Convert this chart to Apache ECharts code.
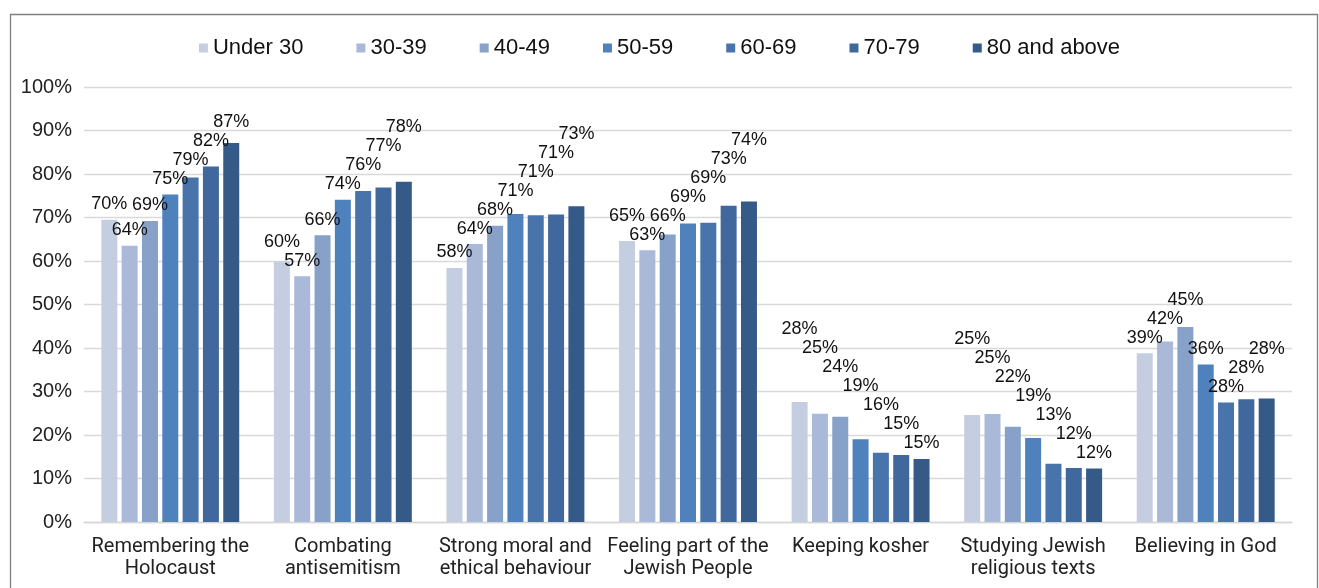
<!DOCTYPE html>
<html><head><meta charset="utf-8">
<script src="https://cdn.jsdelivr.net/npm/echarts@6/dist/echarts.min.js"></script>
<style>html,body{margin:0;padding:0;background:#fff}#c{width:1319px;height:588px}</style>
</head><body><div id="c"></div>
<script>
const categories = ['Remembering the\nHolocaust', 'Combating\nantisemitism', 'Strong moral and\nethical behaviour', 'Feeling part of the\nJewish People', 'Keeping kosher', 'Studying Jewish\nreligious texts', 'Believing in God'];
const ageGroups = ['Under 30', '30-39', '40-49', '50-59', '60-69', '70-79', '80 and above'];
const under30   = [69.5, 59.9, 58.4, 64.6, 27.6, 24.6, 38.8];
const age30to39 = [63.5, 56.5, 63.9, 62.5, 24.9, 24.8, 41.5];
const age40to49 = [69.2, 65.9, 68.1, 66.1, 24.2, 21.9, 44.8];
const age50to59 = [75.3, 74.1, 70.8, 68.6, 19.0, 19.3, 36.2];
const age60to69 = [79.2, 76.1, 70.5, 68.8, 15.9, 13.4, 27.5];
const age70to79 = [81.7, 76.9, 70.7, 72.7, 15.4, 12.4, 28.2];
const age80plus = [87.1, 78.2, 72.6, 73.7, 14.5, 12.3, 28.4];
const yMin = 0, yMax = 100, yStep = 10;

const seriesValues = [under30, age30to39, age40to49, age50to59, age60to69, age70to79, age80plus];
const colors = ['#C5CEE1', '#A9B9D7', '#87A1C9', '#4F81BD', '#4874AB', '#41689D', '#365A88'];
const FONT = '"Liberation Sans", Arial, sans-serif';

const chart = echarts.init(document.getElementById('c'));

function build(offsets) {
  return {
    animation: false,
    backgroundColor: '#fff',
    graphic: [{
      type: 'rect', left: 8, top: 12, z: -10, silent: true,
      shape: { width: 1307, height: 620 },
      style: { fill: 'none', stroke: '#7f7f7f', lineWidth: 1.3 }
    }],
    legend: {
      top: 30, left: 'center',
      icon: 'rect', itemWidth: 9, itemHeight: 9, itemGap: 53,
      textStyle: { fontFamily: FONT, fontSize: 22, color: '#111', lineHeight: 26 },
      data: ageGroups
    },
    grid: { left: 84, right: 27, top: 87, bottom: 66, containLabel: false, outerBoundsMode: 'none' },
    xAxis: {
      type: 'category', data: categories,
      axisTick: { show: false },
      axisLine: { lineStyle: { color: '#d6d6d6', width: 1.3 } },
      axisLabel: { fontFamily: 'Roboto, ' + FONT, fontSize: 20, color: '#222', lineHeight: 22, margin: 14, interval: 0 }
    },
    yAxis: {
      type: 'value', min: yMin, max: yMax, interval: yStep,
      axisLine: { show: false }, axisTick: { show: false },
      splitLine: { lineStyle: { color: '#d9d9d9', width: 1.3 } },
      axisLabel: { formatter: '{value}%', fontFamily: FONT, fontSize: 20, color: '#222', margin: 12 }
    },
    series: ageGroups.map((name, i) => ({
      type: 'bar', name,
      barWidth: 16, barGap: '27%',
      itemStyle: { color: colors[i] },
      label: {
        show: true, position: 'top', distance: 6,
        fontFamily: FONT, fontSize: 18, lineHeight: 19, color: '#111',
        formatter: p => Math.round(p.value) + '%'
      },
      data: seriesValues[i].map((v, j) => ({ value: v, label: { offset: [0, offsets ? offsets[i][j] : 0] } }))
    }))
  };
}

chart.setOption(build(null));

// Staircase label layout: adjacent labels in a group must not collide.
const px = (chart.convertToPixel({ yAxisIndex: 0 }, 0) - chart.convertToPixel({ yAxisIndex: 0 }, 100)) / 100;
const H = 19;
const nS = seriesValues.length;
const offsets = seriesValues.map(() => []);
for (let j = 0; j < categories.length; j++) {
  const v = seriesValues.map(s => s[j]);
  const init = v.map(x => -x * px);
  const y = init.slice();
  const dir = [];
  for (let i = 0; i < nS - 1; i++) {
    const d = v[i + 1] - v[i];
    dir.push(d > 0.5 ? 'f' : d < -0.5 ? 'b' : null);
  }
  for (let i = 0; i < dir.length; i++) {
    if (!dir[i]) {
      if (i > 0 && dir[i - 1]) dir[i] = dir[i - 1];
      else { let k = i + 1; while (k < dir.length && !dir[k]) k++; dir[i] = k < dir.length ? dir[k] : 'f'; }
    }
  }
  for (let it = 0; it < 4; it++) {
    for (let i = 0; i < nS - 1; i++) if (dir[i] === 'f') y[i + 1] = Math.min(y[i + 1], y[i] - H);
    for (let i = nS - 2; i >= 0; i--) if (dir[i] === 'b') y[i] = Math.min(y[i], y[i + 1] - H);
  }
  for (let i = 0; i < nS; i++) offsets[i][j] = y[i] - init[i];
}
chart.setOption(build(offsets));
</script>
</body></html>
